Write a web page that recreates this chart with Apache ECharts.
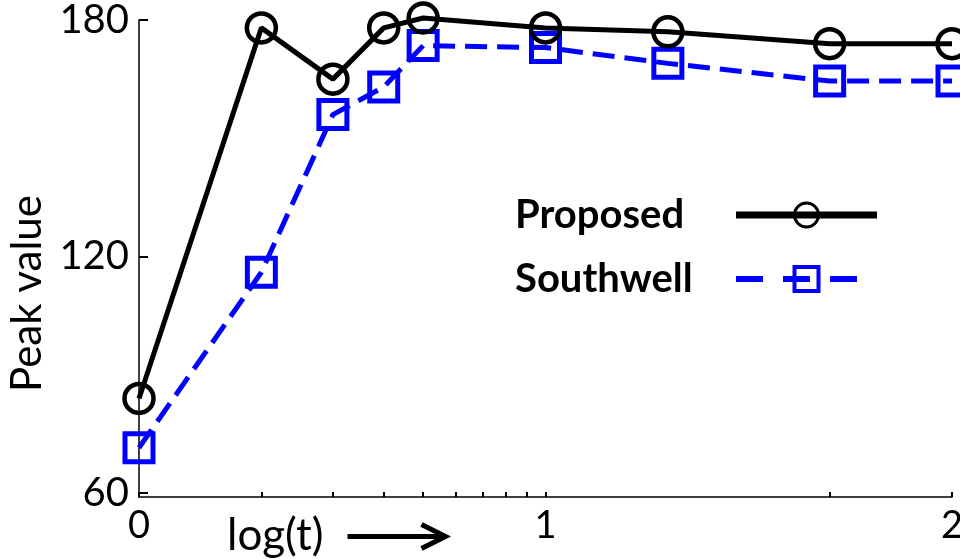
<!DOCTYPE html>
<html><head><meta charset="utf-8">
<script src="https://cdn.jsdelivr.net/npm/echarts@6/dist/echarts.min.js"></script>
<style>html,body{margin:0;padding:0;background:#fff}#c{width:960px;height:559px}</style>
</head><body><div id="c"></div>
<script>
const logT = [0, 0.301, 0.477, 0.602, 0.699, 1, 1.301, 1.699, 2];
const proposed = [84, 178, 165, 178, 180.5, 178, 177, 174, 174];
const southwell = [71.5, 116, 156, 163, 173.5, 173, 169, 164.5, 164.5];
const xTickLabels = [0, 1, 2];
const xMinorTicks = [0, 0.301, 0.477, 0.602, 0.699, 0.778, 0.845, 0.903, 0.954, 1, 1.699, 2];
const yTickLabels = [60, 120, 180];
const xAxisTitle = 'log(t)';

const FONT = 'Lato';
const chart = echarts.init(document.getElementById('c'), null, {renderer: 'canvas'});
const pair = arr => arr.map((v, i) => [logT[i], v]);

chart.setOption({
  animation: false,
  grid: {left: 139, right: 8, top: 20, bottom: 62, containLabel: false, outerBoundsMode: 'none'},
  xAxis: {
    type: 'value', min: 0, max: 2,
    axisLine: {show: true, lineStyle: {color: '#000', width: 1.5}},
    axisTick: {show: true, inside: true, length: 5, lineStyle: {color: '#000', width: 2}, customValues: xMinorTicks},
    axisLabel: {customValues: xTickLabels, fontFamily: FONT, fontSize: 38, color: '#000', margin: 10},
    splitLine: {show: false}
  },
  yAxis: {
    type: 'value', min: 59, max: 180,
    name: 'Peak value', nameLocation: 'middle', nameGap: 90, nameRotate: 90,
    nameTextStyle: {fontFamily: FONT, fontSize: 42, color: '#000', padding: [0, 70, 0, 0]},
    axisLine: {show: true, lineStyle: {color: '#000', width: 1.5}},
    axisTick: {show: true, inside: true, length: 9, lineStyle: {color: '#000', width: 2}, customValues: yTickLabels},
    axisLabel: {customValues: yTickLabels, fontFamily: FONT, fontSize: 40, color: '#000', margin: 10},
    splitLine: {show: false}
  },
  legend: {
    data: [
      {name: 'Proposed', lineStyle: {width: 7, color: '#000'}, itemStyle: {borderWidth: 3}},
      {name: 'Southwell', lineStyle: {width: 6, color: '#0000ff', type: [27, 20]}, itemStyle: {borderWidth: 4}}
    ],
    orient: 'vertical', left: 510, top: 190, align: 'right',
    itemWidth: 141, itemHeight: 30, itemGap: 24,
    formatter: n => '{a|' + n + '}',
    textStyle: {fontFamily: FONT, fontSize: 40, fontWeight: 'bold', color: '#000', lineHeight: 40,
      rich: {a: {width: 216, align: 'left', fontFamily: FONT, fontSize: 40, fontWeight: 'bold', color: '#000'}}}
  },
  series: [
    {
      name: 'Southwell', type: 'line', data: pair(southwell), z: 2,
      symbol: 'rect', symbolSize: 28, showAllSymbol: true,
      lineStyle: {color: '#0000ff', width: 5, type: [22, 10]},
      itemStyle: {color: 'rgba(0,0,0,0)', borderColor: '#0000ff', borderWidth: 5},
      clip: false
    },
    {
      name: 'Proposed', type: 'line', data: pair(proposed), z: 3,
      symbol: 'circle', symbolSize: 29, showAllSymbol: true,
      lineStyle: {color: '#000', width: 5},
      itemStyle: {color: 'rgba(0,0,0,0)', borderColor: '#000', borderWidth: 4.5},
      clip: false
    }
  ],
  graphic: [
    {type: 'text', left: 227, top: 514, style: {text: xAxisTitle, fontFamily: FONT, fontSize: 44, fill: '#000'}},
    {
      type: 'group', left: 345, top: 522,
      children: [
        {type: 'line', shape: {x1: 0, y1: 12, x2: 96, y2: 12}, style: {stroke: '#000', lineWidth: 5}},
        {type: 'polyline', shape: {points: [[74, 0], [98, 12], [74, 24]]}, style: {stroke: '#000', lineWidth: 5, fill: null}}
      ]
    }
  ]
});
</script></body></html>
